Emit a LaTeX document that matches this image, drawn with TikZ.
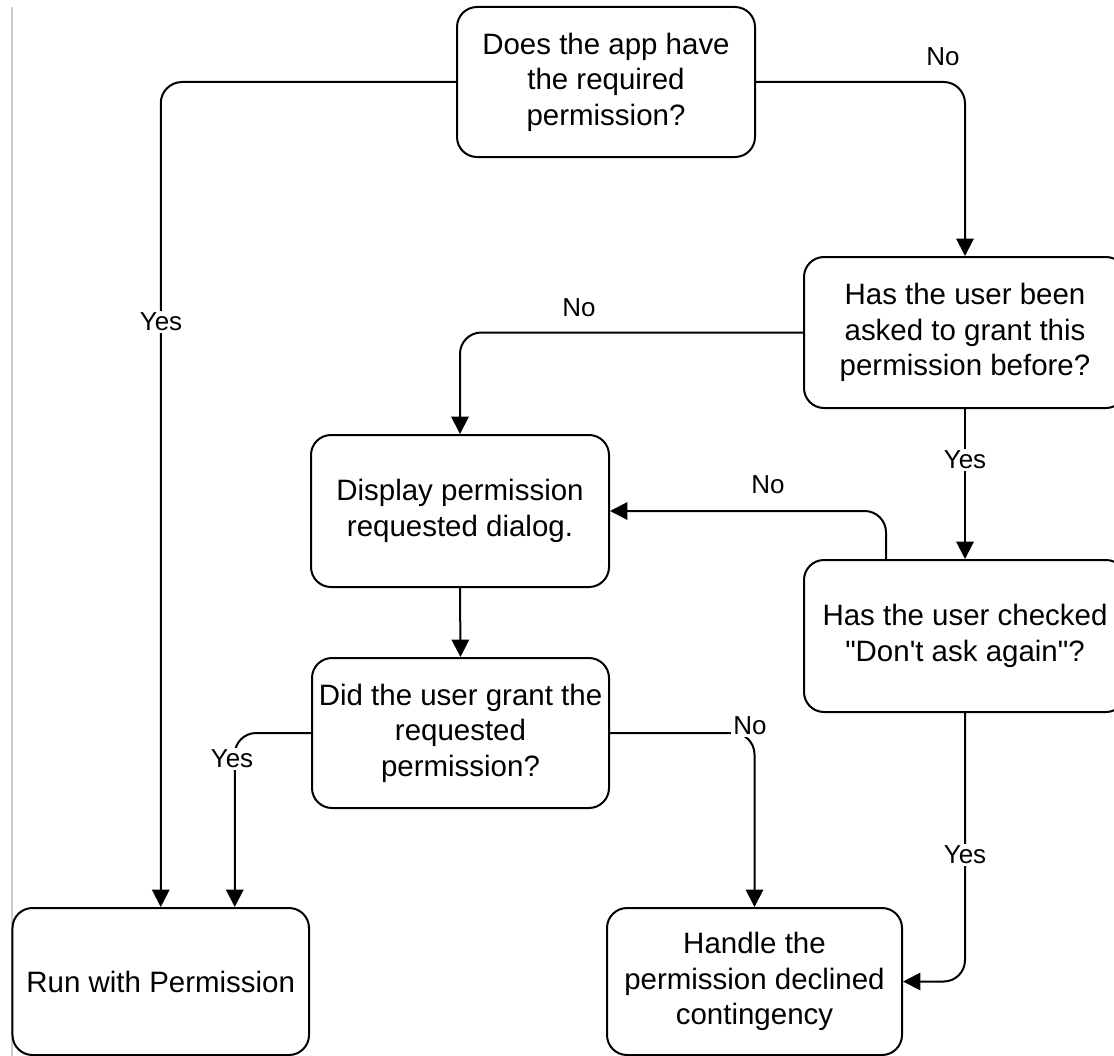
\documentclass[tikz,border=0pt]{standalone}
\usepackage{fontspec}
\setmainfont{Liberation Sans}[Ligatures=TeXOff]
\usetikzlibrary{arrows.meta,calc}
\begin{document}
\begin{tikzpicture}[x=0.75pt,y=-0.75pt,
  box/.style={draw=black, line width=1.5pt, rounded corners=15pt, fill=white, align=center, inner sep=0pt, font=\fontsize{22.1}{26.6}\selectfont},
  conn/.style={line width=1.5pt, rounded corners=16pt},
  arr/.style={conn, -{Triangle[width=13pt,length=13pt]}},
  lbl/.style={fill=white, inner sep=1.5pt, font=\fontsize{19.5}{23}\selectfont}]
\useasboundingbox (0,0) rectangle (1114,1056);
\fill[white] (0,0) rectangle (1114,1056);
\clip (0,0) rectangle (1114,1056);
\draw[line width=1.2pt, color=gray!40] (12,7) -- (12,1056);

\node[box, minimum width=223.5pt, minimum height=112.5pt] (A) at (606,82) {Does the app have\\the required\\permission?};
\node[box, minimum width=241.5pt, minimum height=113.25pt] (B) at (965,332.5) {Has the user been\\asked to grant this\\permission before?};
\node[box, minimum width=223.5pt, minimum height=114pt] (C) at (460,511) {Display permission\\requested dialog.};
\node[box, minimum width=222.75pt, minimum height=112.5pt] (D) at (460.5,733) {Did the user grant the\\requested\\permission?};
\node[box, minimum width=241.5pt, minimum height=114pt] (E) at (965,636) {Has the user checked\\"Don't ask again"?};
\node[box, minimum width=222.4pt, minimum height=110.25pt] (F) at (160.75,981.5) {Run with Permission};
\node[box, minimum width=221.25pt, minimum height=110.25pt] (G) at (754.5,981.5) {Handle the\\permission declined\\contingency};

\draw[arr] (A.west) -| (F.north);
\draw[arr] (A.east) -| (B.north);
\draw[arr] (B.west) -| (C.north);
\draw[arr] (C.south) -- (D.north);
\draw[arr] (B.south) -- (E.north);
\draw[arr] ($(E.north)+(-79,0)$) |- (C.east);
\draw[arr] (D.west) -| ($(F.north)+(74,0)$);
\draw[arr] (D.east) -| (G.north);
\draw[arr] (E.south) |- (G.east);

\node[lbl] (l1) at (161,322) {Yes};
\node[lbl] (l2) at (943,57) {No};
\node[lbl] (l3) at (579,308) {No};
\node[lbl] (l4) at (965,460) {Yes};
\node[lbl] (l5) at (768,485) {No};
\node[lbl] (l6) at (232,759) {Yes};
\node[lbl] (l7) at (750,726) {No};
\node[lbl] (l8) at (965,855) {Yes};
\end{tikzpicture}
\end{document}
